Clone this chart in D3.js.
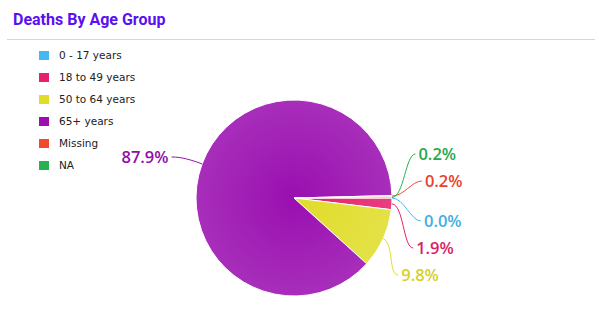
<!DOCTYPE html>
<html>
<head>
<meta charset="utf-8">
<script src="https://cdn.jsdelivr.net/npm/d3@7/dist/d3.min.js"></script>
<style>
  body { margin: 0; background: #fff; }
  svg { display: block; }
</style>
</head>
<body>
<script>
'use strict';

// chart data
const groups = ["0 - 17 years", "18 to 49 years", "50 to 64 years", "65+ years", "Missing", "NA"];
const shares = [0.0, 1.9, 9.8, 87.9, 0.2, 0.2];
const colors = ["#45b9ef", "#e6206b", "#e0dc2a", "#9a0fb0", "#f4472e", "#27b150"];
const title = "Deaths By Age Group";

const m = {
  width: 599,
  height: 336,
  cx: 294,
  cy: 198,
  r: 98,
  targetR: 118,   // natural label height
  labelR: 132,    // label placement radius
  labelGap: 27,
  clearTop: 17,   // keep labels off the 3 o'clock edge
  clearBottom: 23
};

const svg = d3.select('body')
  .append('svg')
  .attr('width', m.width)
  .attr('height', m.height);

// title + rule
svg.append('text')
  .attr('x', 13)
  .attr('y', 25)
  .attr('fill', '#5a10f2')
  .style('font-family', 'Roboto, sans-serif')
  .style('font-weight', 'bold')
  .style('font-size', '16px')
  .text(title);

svg.append('line')
  .attr('x1', 7).attr('x2', 595)
  .attr('y1', 39.5).attr('y2', 39.5)
  .attr('stroke', '#d6d6d6')
  .attr('stroke-width', 1);

// legend
const legend = svg.append('g').attr('transform', 'translate(39, 51)');
const rows = legend.selectAll('g')
  .data(groups)
  .enter()
  .append('g')
  .attr('transform', (d, i) => 'translate(0,' + i * 22 + ')');
rows.append('rect')
  .attr('width', 10).attr('height', 9)
  .attr('fill', (d, i) => colors[i]);
rows.append('text')
  .attr('x', 20)
  .attr('y', 8)
  .style('font-family', '"DejaVu Sans", sans-serif')
  .style('font-size', '10.5px')
  .attr('fill', '#222')
  .text(d => d);

// gradients, darker in the middle
const defs = svg.append('defs');
colors.forEach((c, i) => {
  const g = defs.append('radialGradient')
    .attr('id', 'grad' + i)
    .attr('gradientUnits', 'userSpaceOnUse')
    .attr('cx', 0).attr('cy', 0).attr('r', m.r);
  g.append('stop').attr('offset', '0%').attr('stop-color', c);
  g.append('stop').attr('offset', '100%').attr('stop-color', d3.interpolateRgb(c, '#ffffff')(0.13));
});

const pie = d3.pie()
  .sort(null)
  .value(d => d)
  .startAngle(Math.PI / 2)
  .endAngle(Math.PI / 2 + 2 * Math.PI);

const arcs = pie(shares);
const arc = d3.arc().innerRadius(0).outerRadius(m.r);

const pieG = svg.append('g').attr('transform', 'translate(' + m.cx + ',' + m.cy + ')');
pieG.selectAll('path')
  .data(arcs)
  .enter()
  .append('path')
  .attr('d', arc)
  .attr('fill', (d, i) => 'url(#grad' + i + ')')
  .attr('stroke', '#fff')
  .attr('stroke-width', 1)
  .attr('stroke-linejoin', 'round');

// label layout
const labels = arcs.map((d, i) => {
  const mid = (d.startAngle + d.endAngle) / 2;
  return {
    i: i,
    mid: mid,
    right: Math.sin(mid) >= 0,
    target: -m.targetR * Math.cos(mid)
  };
});

// right side: labels above the edge stack upward, below it stack downward
const rightSide = labels.filter(l => l.right);
const upper = rightSide.filter(l => l.target < -1e-6).sort((a, b) => a.i - b.i);
const lower = rightSide.filter(l => l.target >= -1e-6).sort((a, b) => a.i - b.i);
let limit = -m.clearTop;
upper.forEach(l => { l.y = Math.min(l.target, limit); limit = l.y - m.labelGap; });
limit = m.clearBottom;
lower.forEach(l => { l.y = Math.max(l.target, limit); limit = l.y + m.labelGap; });
labels.filter(l => !l.right).forEach(l => { l.y = l.target; });

labels.forEach(l => {
  const dy = Math.max(-m.labelR, Math.min(m.labelR, l.y));
  const dx = Math.sqrt(m.labelR * m.labelR - dy * dy) * (l.right ? 1 : -1);
  l.x = dx;
  const sx = m.r * Math.sin(l.mid), sy = -m.r * Math.cos(l.mid);
  const ox = (m.r + 12) * Math.sin(l.mid), oy = -(m.r + 12) * Math.cos(l.mid);
  const ex = dx + (l.right ? -3 : 3);
  const cx2 = ex + (l.right ? -10 : 10);
  l.path = 'M' + sx + ',' + sy + ' C' + ox + ',' + oy + ' ' + cx2 + ',' + l.y + ' ' + ex + ',' + l.y;
});

pieG.selectAll('.conn')
  .data(labels)
  .enter()
  .append('path')
  .attr('class', 'conn')
  .attr('d', l => l.path)
  .attr('fill', 'none')
  .attr('stroke', l => colors[l.i])
  .attr('stroke-width', 1);

pieG.selectAll('.lbl')
  .data(labels)
  .enter()
  .append('text')
  .attr('class', 'lbl')
  .attr('x', l => l.x)
  .attr('y', l => l.y)
  .attr('dy', '0.35em')
  .attr('text-anchor', l => l.right ? 'start' : 'end')
  .attr('fill', l => d3.color(colors[l.i]).darker(0.15))
  .style('font-family', '"Open Sans", sans-serif')
  .style('font-weight', '600')
  .style('font-size', '16.5px')
  .text(l => d3.format('.1f')(shares[l.i]) + '%');
</script>
</body>
</html>
